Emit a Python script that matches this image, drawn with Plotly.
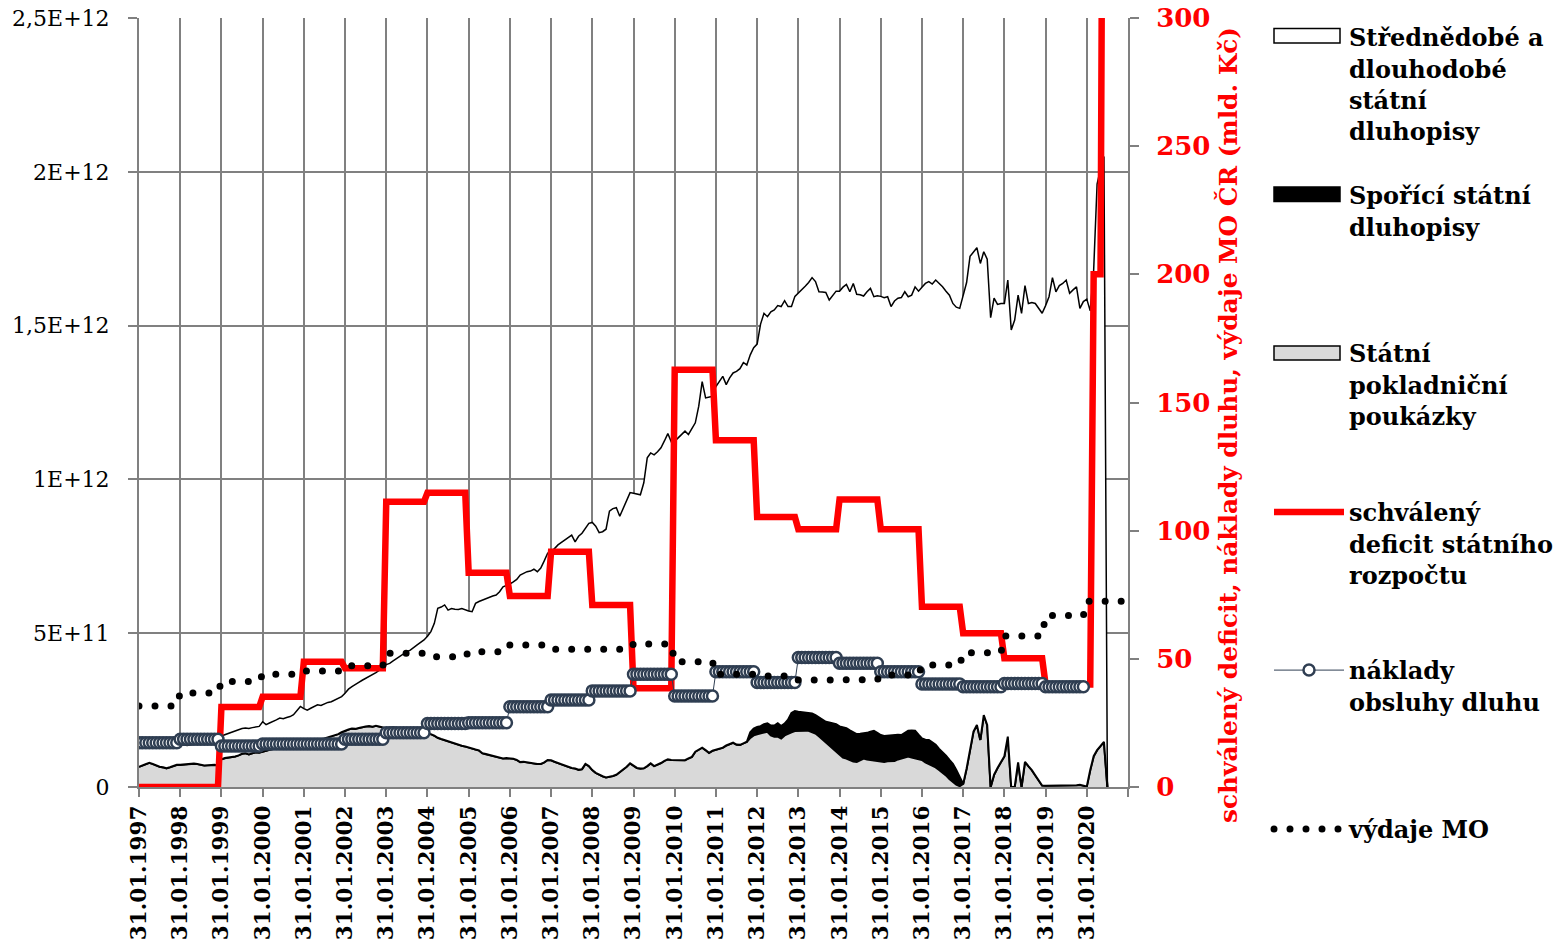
import plotly.graph_objects as go

# ---------------- DATA (mld. Kč) ----------------
# x-axis tick labels (one per January, month index 0, 12, 24, ...)
popisky_x = ["31.01.1997", "31.01.1998", "31.01.1999", "31.01.2000", "31.01.2001",
             "31.01.2002", "31.01.2003", "31.01.2004", "31.01.2005", "31.01.2006",
             "31.01.2007", "31.01.2008", "31.01.2009", "31.01.2010", "31.01.2011",
             "31.01.2012", "31.01.2013", "31.01.2014", "31.01.2015", "31.01.2016",
             "31.01.2017", "31.01.2018", "31.01.2019", "31.01.2020", ""]

# Státní pokladniční poukázky - monthly, 01/1997 .. 07/2020
spp = [
    66, 70, 74, 79, 75, 70, 66, 64, 61, 64, 68, 72,
    72, 73, 75, 77, 76, 75, 72, 70, 71, 72, 72, 70,
    90, 94, 95, 96, 99, 103, 108, 110, 106, 110, 113, 112,
    116, 118, 121, 124, 126, 128, 131, 133, 135, 137, 139, 141,
    143, 146, 148, 150, 153, 155, 158, 161, 164, 168, 172, 178,
    183, 187, 190, 189, 192, 195, 197, 198, 196, 199, 197, 193,
    191, 193, 194, 192, 190, 188, 186, 184, 182, 180, 178, 176,
    175, 172, 167, 160, 156, 152, 148, 145, 141, 137, 134, 132,
    128, 126, 122, 119, 110, 107, 104, 100, 97, 94, 93, 94,
    94, 92, 88, 81, 82, 80, 78, 76, 75, 75, 80, 88,
    87, 82, 78, 74, 68, 65, 62, 60, 56, 58, 75, 68,
    55, 46, 40, 35, 31, 33, 36, 40, 48, 58, 66, 77,
    70, 62, 60, 61, 68, 77, 68, 72, 78, 85, 90, 88,
    88, 86, 88, 87, 93, 98, 115, 122, 128, 120, 111, 118,
    122, 126, 128, 135, 140, 144, 138, 137, 142, 147, 160, 168,
    172, 174, 178, 180, 168, 164, 164, 158, 168, 174, 178, 182,
    183, 184, 183, 183, 178, 174, 165, 155, 147, 138, 128, 118,
    105, 96, 93, 88, 83, 82, 88, 93, 90, 88, 88, 86,
    83, 82, 84, 85, 85, 90, 93, 96, 99, 96, 93, 90,
    88, 80, 75, 70, 64, 56, 48, 38, 26, 16, 8, 3,
    10, 60, 120, 180, 202, 153, 234, 202, 0, 40, 62, 80,
    100, 164, 0, 0, 80, 0, 82, 68, 55, 38, 20, 5,
    4, 4, 5, 5, 4, 5, 6, 6, 6, 6, 7, 5,
    2, 55, 100, 120, 132, 147, 0,
]

# Spořící státní dluhopisy - monthly
ssd = [0] * 178 + [
    18, 22,
    23, 24, 26, 27, 32, 36, 43, 40, 38, 45, 63, 65,
    62, 60, 60, 59, 61, 60, 62, 64, 65, 72, 80, 86,
    92, 97, 98, 96, 95, 90, 85, 81, 86, 92, 95, 90,
    86, 84, 83, 84, 84, 80, 76, 80, 84, 88, 90, 80,
    70, 74, 78, 75, 73, 68, 66, 64, 62, 59, 47, 30,
] + [0] * 43

# total of the three debt instruments (top edge of the stacked areas)
celkem = [
    127, 128, 126, 129, 130, 131, 129, 132, 133, 131, 134, 135,
    136, 137, 135, 138, 139, 140, 138, 141, 142, 143, 142, 144,
    166, 170, 174, 180, 183, 186, 190, 192, 190, 193, 195, 197,
    212, 203, 208, 212, 218, 224, 222, 226, 229, 235, 248, 262,
    255, 250, 256, 262, 267, 265, 270, 275, 277, 282, 288, 294,
    305, 318, 326, 332, 340, 347, 353, 360, 366, 372, 380, 392,
    398, 402, 410, 418, 425, 432, 440, 445, 455, 462, 470, 478,
    490, 505, 532, 581, 585, 592, 575, 580, 578, 577, 580, 575,
    572, 570, 597, 603, 608, 613, 618, 621, 624, 635, 651, 655,
    660, 667, 675, 689, 695, 700, 702, 708, 700, 712, 735, 760,
    768, 775, 787, 795, 803, 812, 819, 797, 815, 825, 840, 857,
    860, 848, 827, 830, 838, 897, 905, 908, 880, 905, 930, 957,
    955, 953, 950, 989, 1070, 1086, 1080, 1090, 1103, 1125, 1149, 1122,
    1124, 1135, 1145, 1157, 1146, 1165, 1184, 1238, 1318, 1265, 1268, 1270,
    1302, 1320, 1335, 1308, 1330, 1346, 1351, 1360, 1380, 1372, 1405, 1428,
    1440, 1505, 1540, 1529, 1545, 1551, 1565, 1562, 1581, 1562, 1562, 1595,
    1605, 1616, 1628, 1640, 1656, 1643, 1610, 1609, 1608, 1583, 1599, 1612,
    1612, 1625, 1634, 1610, 1637, 1602, 1600, 1596, 1610, 1621, 1594, 1597,
    1595, 1591, 1594, 1562, 1580, 1589, 1591, 1610, 1594, 1599, 1626, 1612,
    1625, 1637, 1643, 1635, 1648, 1638, 1626, 1612, 1599, 1572, 1560, 1556,
    1595, 1640, 1725, 1738, 1753, 1702, 1740, 1716, 1526, 1589, 1569, 1572,
    1572, 1648, 1486, 1518, 1599, 1540, 1630, 1572, 1575, 1572, 1556, 1540,
    1565, 1594, 1656, 1610, 1630, 1637, 1648, 1605, 1616, 1626, 1556, 1578,
    1586, 1548, 1680, 1960, 2010, 2050, 0,
]

# yearly values on the right axis
deficit_rocni = [0, 0, 31.2, 35.2, 48.9, 46.3, 111.3, 114.8, 83.6, 74.5, 91.8, 71.0,
                 38.5, 162.8, 135.3, 105.3, 100.6, 112.2, 100.6, 70.3, 60.0, 50.2, 40.0]  # 1997-2019
deficit_2020 = [40, 40, 200, 200, 200, 500]  # 01-06/2020
naklady_rocni = [17.3, 18.6, 16.0, 16.8, 16.8, 18.6, 21.2, 24.8, 25.1, 31.3, 33.9, 37.5,
                 44.0, 35.5, 45.0, 40.8, 50.5, 48.3, 45.0, 40.2, 39.1, 40.4, 39.1]  # 1997-2019
mo_rocni = [31.6, 36.7, 41.2, 44.0, 45.3, 47.3, 52.2, 50.8, 52.8, 55.4, 53.7, 53.7,
            55.8, 48.9, 44.0, 43.3, 41.7, 41.9, 43.7, 47.6, 52.4, 58.9, 66.9, 72.5]  # 1997-2020

# ---------------- derived monthly series ----------------
sdd = [c - a - b for c, a, b in zip(celkem, spp, ssd)]  # medium/long-term bonds
deficit = [v for v in deficit_rocni for _ in range(12)] + deficit_2020
naklady = [v for v in naklady_rocni for _ in range(12)]
mo = [v for v in mo_rocni for _ in range(12)]

MLD = 1e9
FONT = "DejaVu Serif"
GRID = "#808080"
SLATE = "#2f3e52"
GREY_FILL = "#d9d9d9"

NAME_SDD = "Střednědobé a<br>dlouhodobé<br>státní<br>dluhopisy"
NAME_SSD = "Spořící státní<br>dluhopisy"
NAME_SPP = "Státní<br>pokladniční<br>poukázky"

fig = go.Figure()
xa = list(range(len(celkem)))

fig.add_trace(go.Scatter(
    x=xa, y=[v * MLD for v in spp], stackgroup="dluh", mode="lines",
    line=dict(color="black", width=2.2), fillcolor=GREY_FILL,
    name=NAME_SPP, showlegend=False, hoverinfo="skip"))
fig.add_trace(go.Scatter(
    x=xa, y=[v * MLD for v in ssd], stackgroup="dluh", mode="lines",
    line=dict(color="black", width=2), fillcolor="black",
    name=NAME_SSD, showlegend=False, hoverinfo="skip"))
fig.add_trace(go.Scatter(
    x=xa, y=[v * MLD for v in sdd], stackgroup="dluh", mode="lines",
    line=dict(color="black", width=1.5), fillcolor="white",
    name=NAME_SDD, showlegend=False, hoverinfo="skip"))

# legend entries of the three areas (box symbols drawn as shapes below)
for nm, lg in [(NAME_SDD, "legend"), (NAME_SSD, "legend2"), (NAME_SPP, "legend3")]:
    fig.add_trace(go.Scatter(x=[None], y=[None], mode="lines",
                             line=dict(color="rgba(0,0,0,0)", width=1),
                             name=nm, legend=lg, hoverinfo="skip"))

fig.add_trace(go.Scatter(
    x=list(range(len(deficit))), y=deficit, yaxis="y2", mode="lines",
    line=dict(color="#ff0000", width=6.5),
    name="schválený<br>deficit státního<br>rozpočtu", legend="legend4", hoverinfo="skip"))
fig.add_trace(go.Scatter(
    x=list(range(len(naklady))), y=naklady, yaxis="y2", mode="lines+markers",
    line=dict(color=SLATE, width=1),
    marker=dict(symbol="circle", size=11, color="white", line=dict(color=SLATE, width=2.5)),
    name="náklady<br>obsluhy dluhu", legend="legend5", hoverinfo="skip"))
fig.add_trace(go.Scatter(
    x=list(range(len(mo))), y=mo, yaxis="y2", mode="lines",
    line=dict(color="rgb(0,0,1)", width=7, dash="7px,9px"),
    name="výdaje MO", legend="legend6", hoverinfo="skip"))

L, R, T, B = 139, 1128, 18, 787
W, H = 1564, 944


def px_x(p):
    return (p - L) / (R - L)


def px_y(p):
    return (B - p) / (B - T)


legend_font = dict(family=FONT, size=24, color="black", weight="bold")
starts = [37, 195, 353, 512, 670, 829]
names = ["legend", "legend2", "legend3", "legend4", "legend5", "legend6"]
legends = {}
for nm, c in zip(names, starts):
    legends[nm] = dict(x=px_x(1269), xanchor="left", y=px_y(c - 22), yanchor="top",
                       valign="top", font=legend_font, itemwidth=70,
                       bgcolor="rgba(0,0,0,0)", borderwidth=0)

box_style = [((28.5, 43), "white"), ((187, 201.5), "black"), ((346, 360), GREY_FILL)]
shapes = []
for (top, bot), col in box_style:
    shapes.append(dict(type="rect", xref="paper", yref="paper",
                       x0=px_x(1274), x1=px_x(1340), y0=px_y(bot), y1=px_y(top),
                       fillcolor=col, line=dict(color="black", width=1.5), layer="above"))

fig.update_layout(
    width=W, height=H,
    margin=dict(l=L, r=W - R, t=T, b=H - B, autoexpand=False),
    paper_bgcolor="white", plot_bgcolor="white",
    font=dict(family=FONT, color="black"),
    showlegend=True,
    xaxis=dict(
        range=[0, 288], tickmode="array", tickvals=list(range(0, 289, 12)),
        ticktext=popisky_x, tickangle=-90,
        tickfont=dict(family=FONT, size=21.5, color="black", weight="bold"),
        showgrid=True, gridcolor=GRID, gridwidth=2,
        showline=True, linecolor=GRID, linewidth=2,
        ticks="outside", ticklen=8, tickwidth=2, tickcolor=GRID,
        zeroline=False,
    ),
    yaxis=dict(
        range=[0, 2.5e12], tickmode="array",
        tickvals=[0, 5e11, 1e12, 1.5e12, 2e12, 2.5e12],
        ticktext=["0", "5E+11", "1E+12", "1,5E+12", "2E+12", "2,5E+12"],
        tickfont=dict(family=FONT, size=22, color="black"),
        showgrid=True, gridcolor=GRID, gridwidth=2,
        showline=True, linecolor=GRID, linewidth=2,
        ticks="outside", ticklen=9, tickwidth=2, tickcolor=GRID,
        ticklabelstandoff=14, zeroline=False,
    ),
    yaxis2=dict(
        overlaying="y", side="right", range=[0, 300], tickmode="array",
        tickvals=[0, 50, 100, 150, 200, 250, 300],
        tickfont=dict(family=FONT, size=26, color="#ff0000", weight="bold"),
        showgrid=False, showline=True, linecolor=GRID, linewidth=2,
        ticks="outside", ticklen=9, tickwidth=2, tickcolor=GRID,
        ticklabelstandoff=12, zeroline=False,
    ),
    annotations=[dict(
        text="schválený deficit, náklady dluhu, výdaje MO ČR (mld. Kč)",
        xref="paper", yref="paper", x=px_x(1228), y=px_y(425),
        xanchor="center", yanchor="middle", textangle=-90, showarrow=False,
        font=dict(family=FONT, size=24.8, color="#ff0000", weight="bold"))],
    shapes=shapes,
    **legends,
)

post = """
document.documentElement.style.margin = '0';
document.body.style.margin = '0';
document.body.style.padding = '0';
var gd = document.getElementById('{plot_id}');
function styleFix(){
  gd.querySelectorAll('path.js-line').forEach(function(p){
    if (p.style.stroke === 'rgb(0, 0, 1)') {
      p.style.strokeLinecap = 'round';
      p.style.strokeDasharray = '0px, 16px';
    }
  });
  gd.querySelectorAll('.legend path.js-line').forEach(function(p){
    if (p.style.stroke === 'rgb(255, 0, 0)') { p.style.strokeLinecap = 'round'; }
  });
}
styleFix();
gd.on('plotly_afterplot', styleFix);
"""

fig.write_html("out.html", post_script=post,
               config={"responsive": False, "displayModeBar": False})
